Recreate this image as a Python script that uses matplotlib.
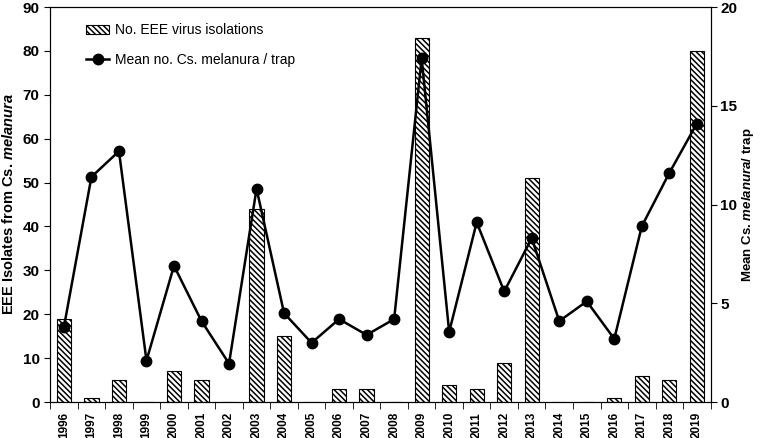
import numpy as np
import matplotlib
matplotlib.use('Agg')
import matplotlib.pyplot as plt

plt.rcParams['font.family'] = 'Liberation Sans'
plt.rcParams['mathtext.fontset'] = 'custom'
plt.rcParams['mathtext.it'] = 'Liberation Sans:italic:bold'
plt.rcParams['mathtext.rm'] = 'Liberation Sans:bold'
plt.rcParams['hatch.linewidth'] = 1.1

years = [str(y) for y in range(1996, 2020)]
isolates = [19, 1, 5, 0, 7, 5, 0, 44, 15, 0, 3, 3, 0, 83, 4, 3, 9, 51, 0, 0, 1, 6, 5, 80]
mean_trap = [3.8, 11.4, 12.7, 2.1, 6.9, 4.1, 1.95, 10.8, 4.5, 3.0, 4.2, 3.4, 4.2, 17.4,
             3.55, 9.1, 5.6, 8.3, 4.1, 5.1, 3.2, 8.9, 11.6, 14.1]

x = np.arange(len(years))

fig = plt.figure(figsize=(7.6, 4.38), dpi=100)
ax = fig.add_axes([0.066, 0.082, 0.869, 0.902])
bars = ax.bar(x, isolates, width=0.52, color='white', edgecolor='black',
              linewidth=0.8, hatch='\\\\\\\\\\\\', label='No. EEE virus isolations')
ax.set_xlim(-0.5, len(years) - 0.5)
ax.set_ylim(0, 90)
ax.set_yticks(range(0, 91, 10))
ax.set_xticks(x)
ax.set_xticklabels(years, rotation=90, fontsize=8.5, fontweight='bold')
ax.tick_params(axis='x', length=0, pad=7)
ax.set_xticks(np.arange(-0.5, len(years), 1), minor=True)
ax.tick_params(axis='x', which='minor', length=5, direction='out')
ax.tick_params(axis='y', labelsize=11, length=4)
for t in ax.get_yticklabels():
    t.set_fontweight('bold')
ax.set_ylabel(r'EEE Isolates from Cs. $\it{melanura}$', fontsize=10.5,
              fontweight='bold', labelpad=5)

ax2 = ax.twinx()
ln, = ax2.plot(x, mean_trap, color='black', linewidth=1.8, marker='o',
               markersize=7.5, label='Mean no. Cs. melanura / trap')
ax2.set_ylim(0, 20)
ax2.set_yticks([0, 5, 10, 15, 20])
ax2.tick_params(axis='y', labelsize=11, length=4, pad=3)
for t in ax2.get_yticklabels():
    t.set_fontweight('bold')
ax2.set_ylabel(r'Mean Cs. $\it{melanura/}$ trap', fontsize=9.5,
               fontweight='bold', labelpad=2)

ax.legend([bars, ln], ['No. EEE virus isolations', 'Mean no. Cs. melanura / trap'],
          loc='upper left', bbox_to_anchor=(0.035, 0.99), frameon=False,
          fontsize=10, labelspacing=1.1, handlelength=1.7, handletextpad=0.4)

fig.savefig('out.png', dpi=100)
